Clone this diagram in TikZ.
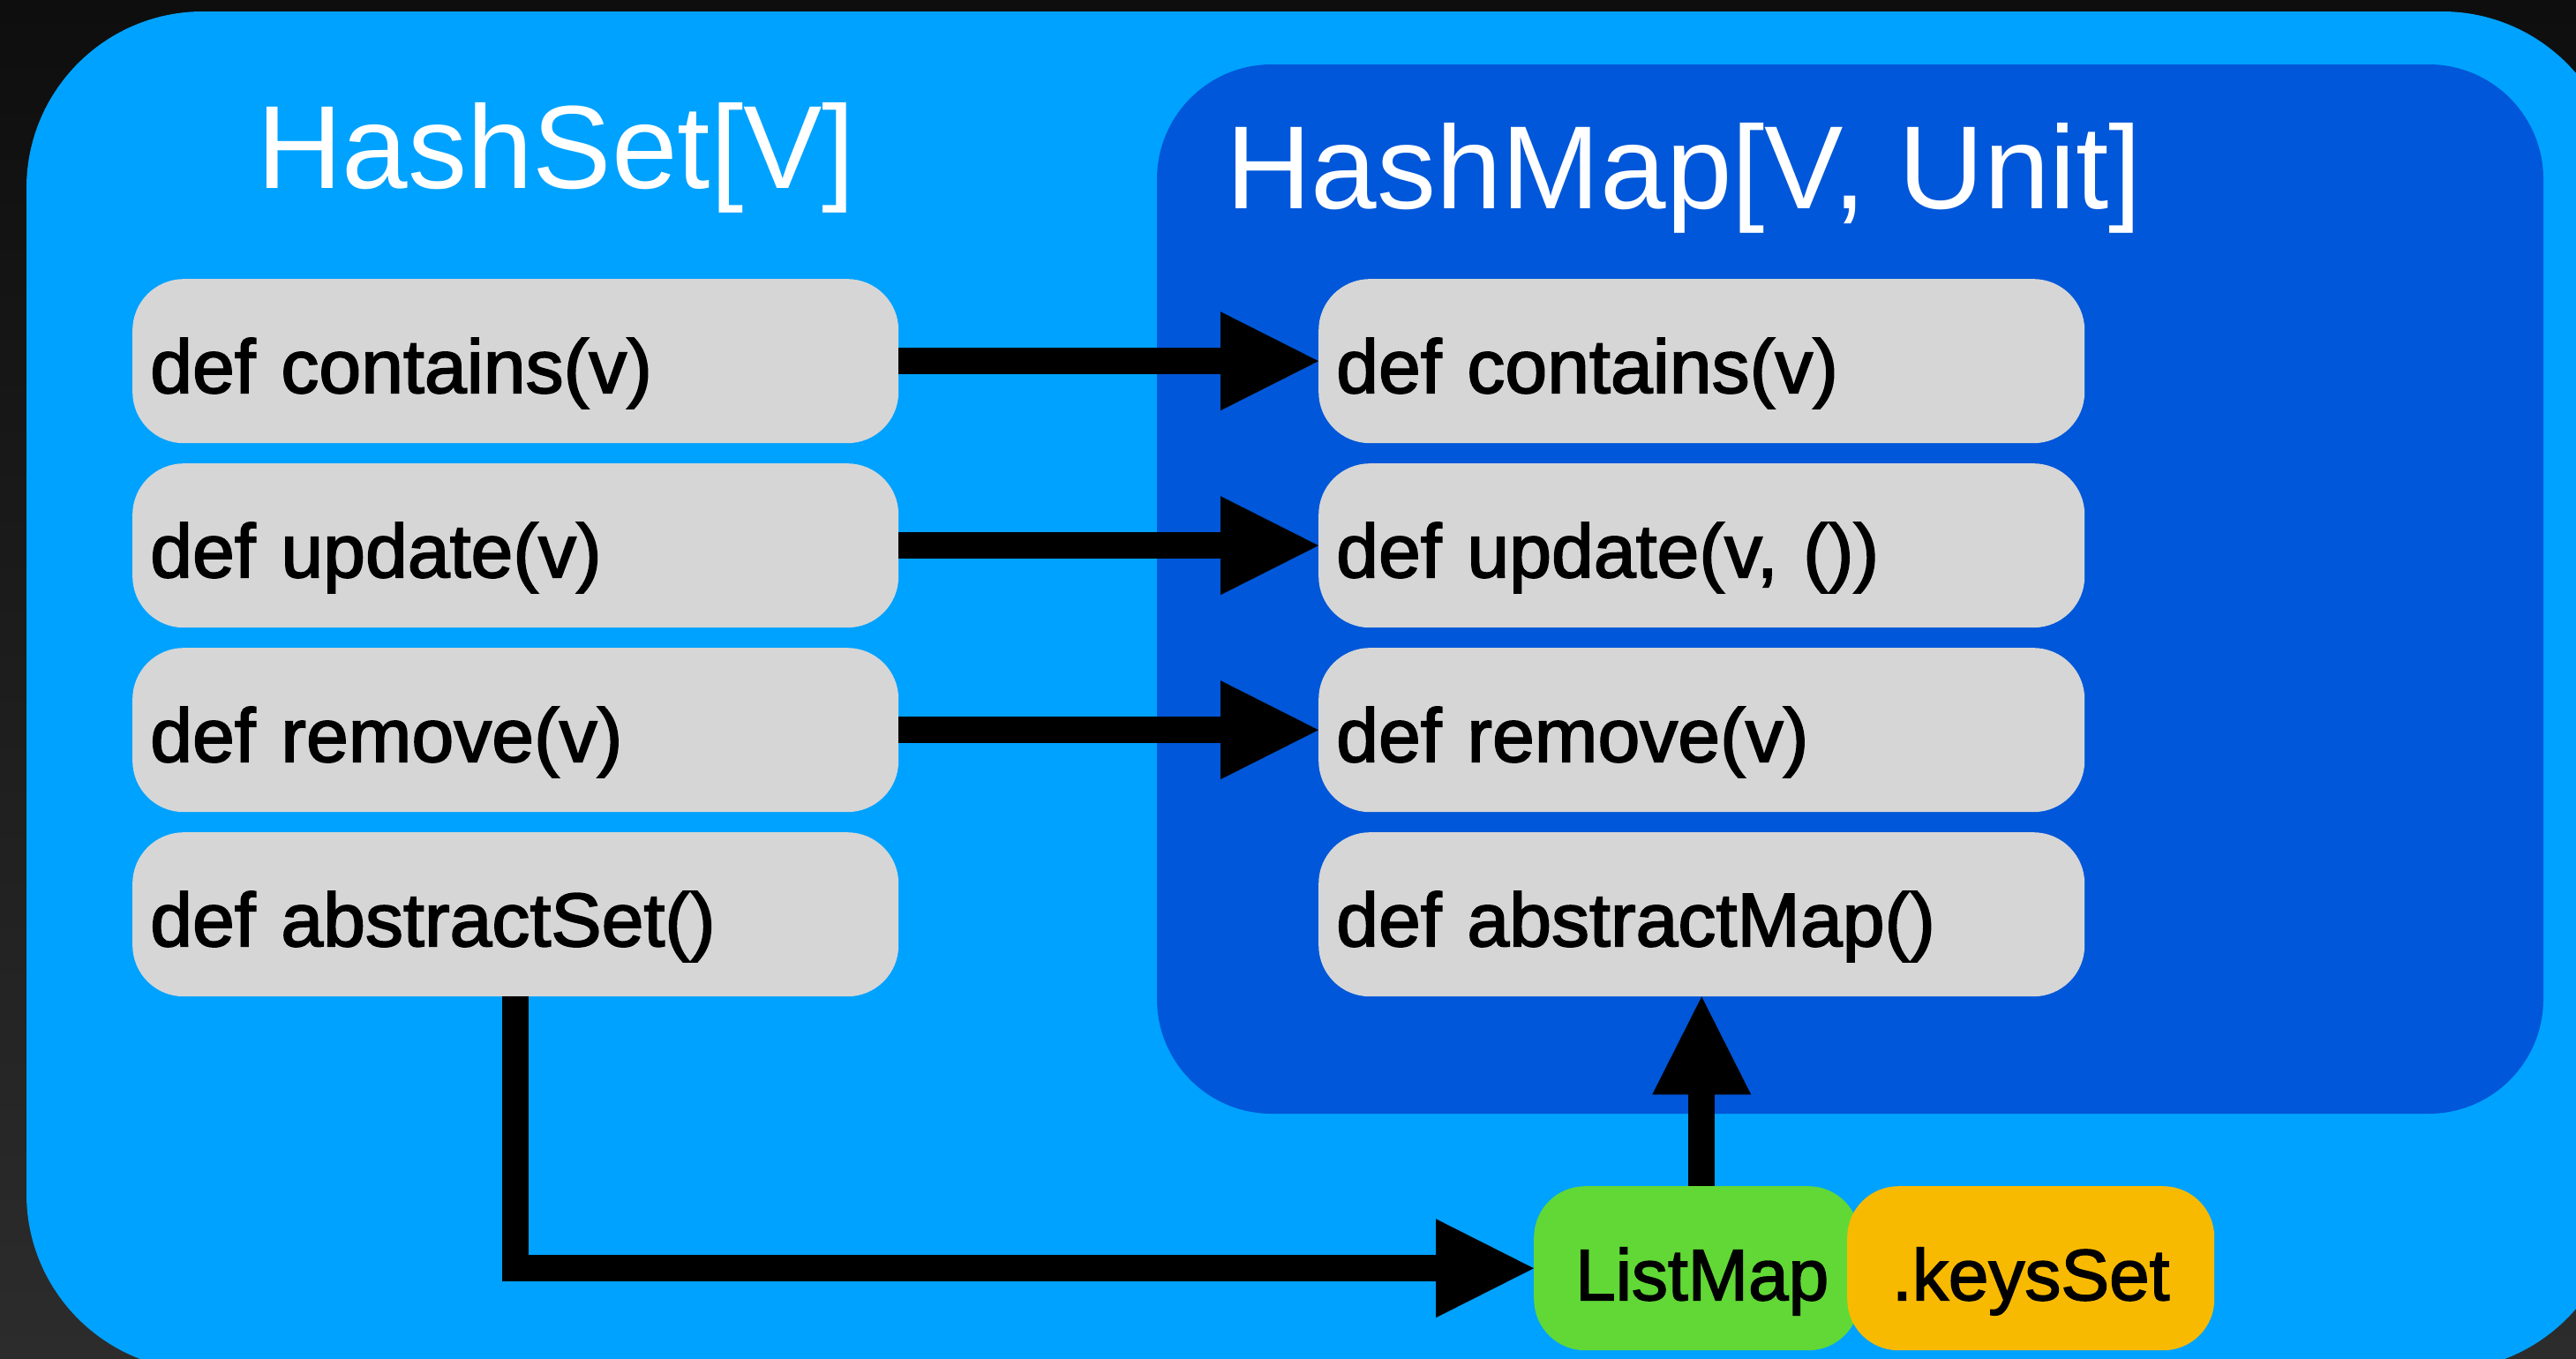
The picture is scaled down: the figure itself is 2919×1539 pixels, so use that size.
\documentclass[tikz,border=0pt]{standalone}
\usepackage{fontspec}
\setmainfont{Liberation Sans}
\newfontfamily\boxfont{Liberation Sans}[FakeBold=2]
\usetikzlibrary{arrows.meta,calc}
\definecolor{bgtop}{HTML}{0E0E0E}
\definecolor{bgbot}{HTML}{2C2C2C}
\definecolor{outerblue}{HTML}{00A2FF}
\definecolor{innerblue}{HTML}{0057D9}
\definecolor{boxgray}{HTML}{D6D6D6}
\definecolor{taggreen}{HTML}{61D836}
\definecolor{tagorange}{HTML}{F8BA00}
\begin{document}
\begin{tikzpicture}[x=1pt,y=-1pt,
  method/.style={fill=boxgray, rounded corners=58pt, text width=828pt, align=left,
    inner xsep=20pt, inner ysep=0pt, minimum height=186pt, text height=72pt, text depth=0pt,
    font=\boxfont\fontsize{86}{90}\selectfont, anchor=north west},
  tag/.style={rounded corners=58pt, minimum height=186pt, inner xsep=0pt, inner ysep=0pt,
    text height=72pt, text depth=0pt, font=\boxfont\fontsize{82}{90}\selectfont, anchor=north west},
  title/.style={text=white, font=\fontsize{134}{140}\selectfont, inner sep=0pt, anchor=base west},
  link/.style={line width=30pt, draw=black, -{Triangle[length=111pt,width=112pt,line width=0pt]}},
]
\useasboundingbox (0,0) rectangle (2919,1539);
\clip (0,0) rectangle (2919,1539);
\shade[top color=bgtop, bottom color=bgbot] (0,0) rectangle (2919,1539);
\fill[outerblue, rounded corners=200pt] (30,13) rectangle (2967,1553);
\fill[innerblue, rounded corners=130pt] (1311,73) rectangle (2882,1262);

\node[title] (tset) at (291,213) {HashSet[V]};
\node[title] (tmap) at (1389,236) {HashMap[V, Unit]};

\node[method] (l1) at (150,316) {def contains(v)};
\node[method] (l2) at (150,525) {def update(v)};
\node[method] (l3) at (150,734) {def remove(v)};
\node[method] (l4) at (150,943) {def abstractSet()};

\node[method] (r1) at (1494,316) {def contains(v)};
\node[method] (r2) at (1494,525) {def update(v, ())};
\node[method] (r3) at (1494,734) {def remove(v)};
\node[method] (r4) at (1494,943) {def abstractMap()};

\node[tag, fill=taggreen, minimum width=369pt] (lm) at (1738,1344) {\hspace*{12pt}ListMap};
\node[tag, fill=tagorange, minimum width=416pt] (ks) at (2093,1344) {.keysSet};

\draw[link] (l1.east) -- (r1.west);
\draw[link] (l2.east) -- (r2.west);
\draw[link] (l3.east) -- (r3.west);
\draw[link] (l4.south) |- (lm.west);
\draw[link] (lm.north -| r4.south) -- (r4.south);
\end{tikzpicture}
\end{document}
